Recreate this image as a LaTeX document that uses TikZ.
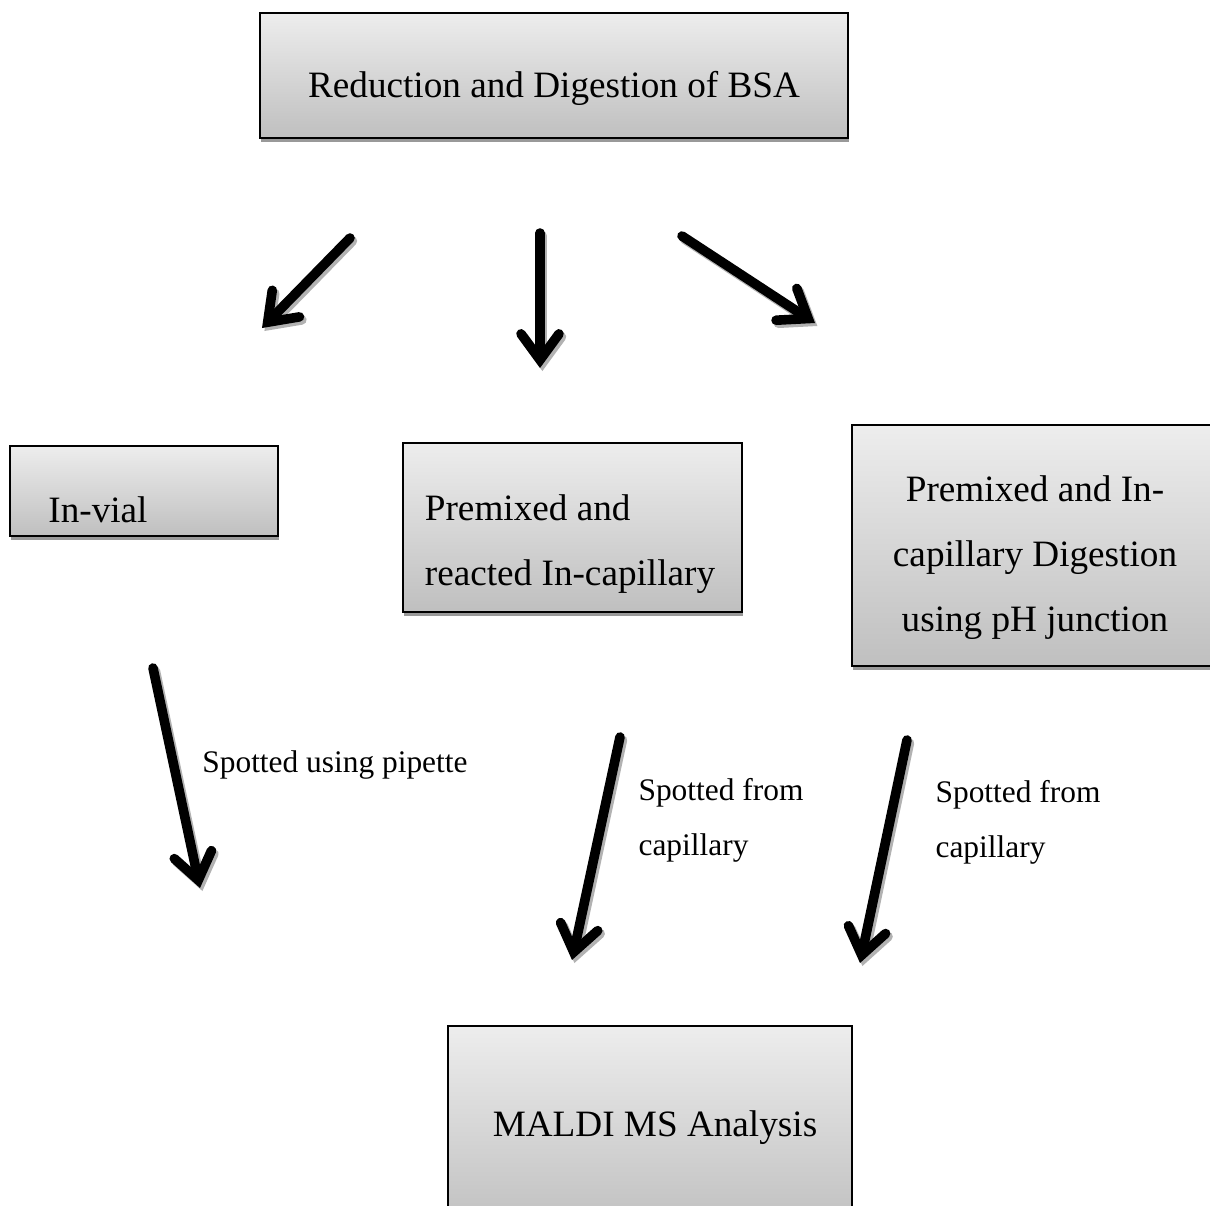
\documentclass[tikz,border=0pt]{standalone}
\usepackage{fontspec}
\setmainfont{Liberation Serif}
\usetikzlibrary{arrows.meta}
\tikzset{
  boxnode/.style={draw=black, line width=1pt, rectangle, inner sep=0pt,
    top color=black!7, bottom color=black!25,
    preaction={fill=black!40, transform canvas={xshift=0.5pt, yshift=-2pt}}},
  boxtext/.style={font=\fontsize{18.6}{32.5}\selectfont, inner sep=0pt, align=center},
  lbltext/.style={font=\fontsize{15.7}{27.5}\selectfont, inner sep=0pt, align=left},
  arrowbase/.style={line width=4.8pt, line cap=round,
    -{Straight Barb[length=13pt, width=19pt, line cap=round, line join=miter]}},
  bigarrow/.style={arrowbase, draw=black},
  arrowshadow/.style={arrowbase, draw=black!30, transform canvas={xshift=1.2pt, yshift=-1.5pt}}
}
\begin{document}
\begin{tikzpicture}[x=0.5pt, y=-0.5pt]
\clip (0,0) rectangle (1210,1205);
\fill[white] (0,0) rectangle (1210,1205);
% boxes
\node[boxnode, minimum width=294pt, minimum height=62.5pt] (top) at (554,75.5) {};
\node[boxnode, minimum width=134pt, minimum height=45pt] (vial) at (144,491) {};
\node[boxnode, minimum width=169.5pt, minimum height=84.5pt] (mid) at (572.5,527.5) {};
\node[boxnode, minimum width=189pt, minimum height=120.5pt] (right) at (1041,545.5) {};
\node[boxnode, minimum width=202pt, minimum height=102pt] (maldi) at (650,1128) {};
% texts
\node[boxtext, anchor=base] (toptext) at (554,97) {Reduction and Digestion of BSA};
\node[boxtext, anchor=base west] (vialtext) at (48,522) {In-vial};
\node[boxtext, align=left, anchor=center] (midtext) at (570,544) {Premixed and\\reacted In-capillary};
\node[boxtext, anchor=center] (righttext) at (1035,558) {Premixed and In-\\capillary Digestion\\using pH junction};
\node[boxtext, anchor=base] (malditext) at (655,1136) {MALDI MS Analysis};
% labels
\node[lbltext, anchor=base west] (l1) at (202,772) {Spotted using pipette};
\node[lbltext, anchor=center] (l2) at (721,820) {Spotted from\\capillary};
\node[lbltext, anchor=center] (l3) at (1018,822) {Spotted from\\capillary};
% arrow end points
\coordinate (a1s) at (350,238); \coordinate (a1e) at (262,328);
\coordinate (a2s) at (540,233); \coordinate (a2e) at (540,368);
\coordinate (a3s) at (682,236); \coordinate (a3e) at (815,323);
\coordinate (a4s) at (153,668); \coordinate (a4e) at (200,888);
\coordinate (a5s) at (620,737); \coordinate (a5e) at (572,960);
\coordinate (a6s) at (907,740); \coordinate (a6e) at (860,963);
\foreach \i in {1,...,6} {
  \draw[arrowshadow] (a\i s) -- (a\i e);
}
\foreach \i in {1,...,6} {
  \draw[bigarrow] (a\i s) -- (a\i e);
}
\end{tikzpicture}
\end{document}
